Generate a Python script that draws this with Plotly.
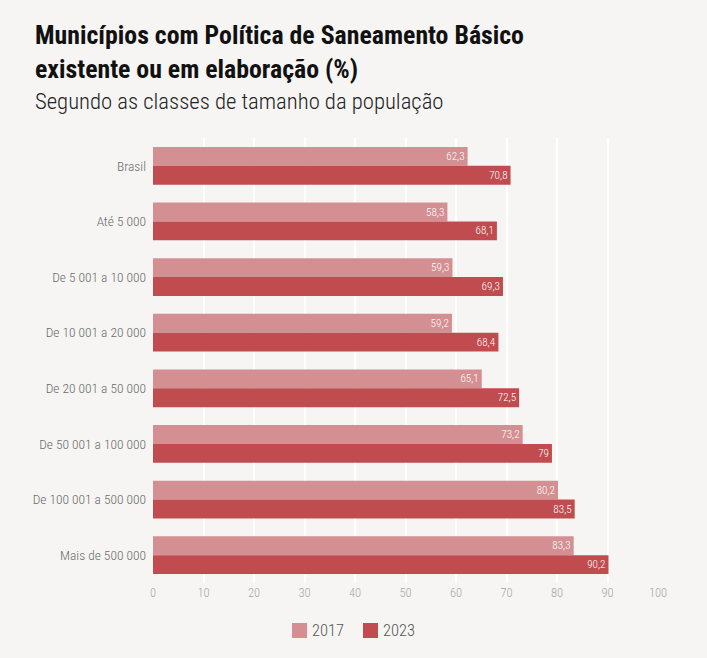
import plotly.graph_objects as go

categories = ["Brasil", "Até 5 000", "De 5 001 a 10 000", "De 10 001 a 20 000",
              "De 20 001 a 50 000", "De 50 001 a 100 000", "De 100 001 a 500 000",
              "Mais de 500 000"]
v2017 = [62.3, 58.3, 59.3, 59.2, 65.1, 73.2, 80.2, 83.3]
v2023 = [70.8, 68.1, 69.3, 68.4, 72.5, 79, 83.5, 90.2]
x_ticks = [0, 10, 20, 30, 40, 50, 60, 70, 80, 90, 100]
series_names = ["2017", "2023"]
colors = ["#d48f93", "#c04c4f"]

def fmt(v):
    return f"{v:g}".replace(".", ",")

FONT = "Roboto Condensed, Liberation Sans Narrow, Roboto, sans-serif"
BG = "#f6f5f3"
L, R, T, B, W, H = 153, 49, 138, 75, 707, 658
PW, PH = W - L - R, H - T - B

def px(x):
    return (x - L) / PW

def py(y):
    return (H - B - y) / PH

fig = go.Figure()
for name, vals, col in zip(series_names, [v2017, v2023], colors):
    fig.add_trace(go.Bar(
        y=categories, x=vals, name=name, orientation="h", showlegend=False,
        marker=dict(color=col, line=dict(width=0)),
        text=[fmt(v) for v in vals], textposition="inside", insidetextanchor="end",
        textangle=0,
        textfont=dict(color="white", size=15.5, family=FONT, weight=300),
    ))

fig.update_layout(
    width=W, height=H,
    paper_bgcolor=BG, plot_bgcolor=BG,
    barmode="group", bargap=0.32, bargroupgap=0,
    margin=dict(l=L, r=R, t=T, b=B, autoexpand=False),
    font=dict(family=FONT, color="#666666"),
    showlegend=False,
    xaxis=dict(range=[0, 100], tickvals=x_ticks, showgrid=True, gridcolor="white",
               gridwidth=1.5, zeroline=False, showline=False, automargin=False,
               tickfont=dict(size=12.5, color="#a5a5a5", weight=300), ticks="",
               fixedrange=True),
    yaxis=dict(autorange="reversed", showgrid=False, zeroline=False, ticks="",
               automargin=False,
               tickfont=dict(size=13.4, color="#6a6a6a", weight=300), ticksuffix="  "),
    uniformtext=dict(minsize=8, mode="show"),
)

# legend (manual, to match swatch/text spacing)
legend_x = [292, 363]
for name, col, lx in zip(series_names, colors, legend_x):
    fig.add_shape(type="rect", xref="paper", yref="paper",
                  x0=px(lx), x1=px(lx + 15), y0=py(638), y1=py(623),
                  fillcolor=col, line=dict(width=0))
    fig.add_annotation(text=name, xref="paper", yref="paper",
                       x=px(lx + 18), y=py(630.5), xanchor="left", yanchor="middle",
                       showarrow=False, font=dict(size=16.5, color="#555555", family=FONT, weight=300))

fig.add_annotation(text="<b>Municípios com Política de Saneamento Básico<br>existente ou em elaboração (%)</b>",
                   xref="paper", yref="paper", x=px(33), y=py(18),
                   xanchor="left", yanchor="top", align="left", showarrow=False,
                   font=dict(size=25.8, color="#111111", family=FONT))
fig.add_annotation(text="Segundo as classes de tamanho da população",
                   xref="paper", yref="paper", x=px(33), y=py(86),
                   xanchor="left", yanchor="top", align="left", showarrow=False,
                   font=dict(size=22.7, color="#222222", family=FONT, weight=300))
fig.write_html("out.html")
